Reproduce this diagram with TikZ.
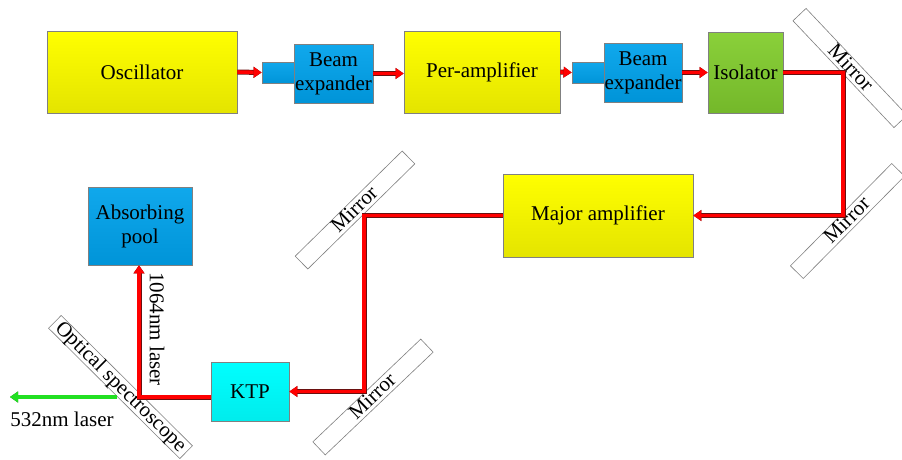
\documentclass[tikz,border=0pt]{standalone}
\usepackage{fontspec}
\setmainfont{LiberationSerif-Regular.ttf}
\usetikzlibrary{arrows.meta}

\definecolor{boxline}{HTML}{808080}
\definecolor{ylwtop}{HTML}{FFFF00}
\definecolor{ylwbot}{HTML}{E4E400}
\definecolor{blutop}{HTML}{10A8EC}
\definecolor{blubot}{HTML}{0094D8}
\definecolor{grntop}{HTML}{8AD03A}
\definecolor{grnbot}{HTML}{74B82A}
\definecolor{cyntop}{HTML}{00FFFF}
\definecolor{cynbot}{HTML}{00ECEC}
\definecolor{beamred}{HTML}{FF0000}
\definecolor{beamedge}{HTML}{6A1010}
\definecolor{beamgreen}{HTML}{22E022}
\definecolor{greenedge}{HTML}{2A7A2A}

\tikzset{
  every node/.style={font=\fontsize{21}{24}\selectfont},
  unit/.style={draw=boxline, line width=0.8pt, rectangle, inner sep=0pt, align=center},
  yellowbox/.style={unit, top color=ylwtop, bottom color=ylwbot},
  bluebox/.style={unit, top color=blutop, bottom color=blubot},
  greenbox/.style={unit, top color=grntop, bottom color=grnbot},
  cyanbox/.style={unit, top color=cyntop, bottom color=cynbot},
  mirrorstrip/.style={draw=boxline, fill=white, line width=0.6pt, rectangle,
    inner sep=0pt, minimum height=18pt, text height=14pt, text depth=3pt},
  beam/.style={draw=beamred, line width=3.6pt, line join=miter,
    -{Triangle[length=8pt,width=11pt,line width=0pt]},
    preaction={draw=beamedge, line width=5pt, line join=miter,
      -{Triangle[length=8pt,width=11pt,line width=1pt]}}},
  greenbeam/.style={draw=beamgreen, line width=3.4pt,
    -{Triangle[length=8pt,width=11pt,line width=0pt]},
    preaction={draw=greenedge, line width=4.6pt,
      -{Triangle[length=8pt,width=11pt,line width=1pt]}}}
}

\begin{document}
\begin{tikzpicture}[x=1pt, y=-1pt]
  \path[fill=white] (0,0) rectangle (902,459);
  \useasboundingbox (0,0) rectangle (902,459);

  % top row
  \node[yellowbox, minimum width=190pt, minimum height=82pt] (osc) at (142,72) {Oscillator};
  \node[bluebox, minimum width=32pt, minimum height=21pt] (be1s) at (278,72.5) {};
  \node[bluebox, minimum width=79pt, minimum height=59pt] (be1) at (333.5,73.5) {Beam\\expander};
  \node[yellowbox, minimum width=156pt, minimum height=82pt] (pa) at (482,72) {Per-amplifier};
  \node[bluebox, minimum width=32pt, minimum height=21pt] (be2s) at (588,72.5) {};
  \node[bluebox, minimum width=78pt, minimum height=59pt] (be2) at (643,72.5) {Beam\\expander};
  \node[greenbox, minimum width=75pt, minimum height=81pt] (iso) at (745.5,72.5) {Isolator};

  % middle and bottom
  \node[yellowbox, minimum width=190pt, minimum height=83pt] (ma) at (598,215.5) {Major amplifier};
  \node[bluebox, minimum width=104pt, minimum height=78pt] (ap) at (140,226) {Absorbing\\pool};
  \node[cyanbox, minimum width=78pt, minimum height=59pt] (ktp) at (250,391.5) {KTP};

  % mirrors and beam splitter
  \node[mirrorstrip, minimum width=147pt, rotate=-46.6] (mir1) at (850,68) {Mirror};
  \node[mirrorstrip, minimum width=144pt, rotate=45.3] (mir2) at (847.5,221) {Mirror};
  \node[mirrorstrip, minimum width=150pt, rotate=44.5] (mir3) at (355,210) {Mirror};
  \node[mirrorstrip, minimum width=149pt, rotate=43.6] (mir4) at (373,397) {Mirror};
  \node[mirrorstrip, minimum width=185pt, rotate=-44.8] (spl) at (120.5,387) {Optical spectroscope};

  % turning points of the beam
  \coordinate (c1) at (843,72.5);
  \coordinate (c2) at (843,215.5);
  \coordinate (c3) at (364,215.5);
  \coordinate (c4) at (364,391.5);
  \coordinate (c5) at (139,397);
  \coordinate (g1) at (117,397);
  \coordinate (g2) at (10,397);

  % beams
  \draw[beam] (osc.east) -- (be1s.west);
  \draw[beam] (be1.east) -- (be1.east -| pa.west);
  \draw[beam] (pa.east) -- (be2s.west);
  \draw[beam] (be2.east) -- (be2.east -| iso.west);
  \draw[beam] (iso.east) -- (c1) -- (c2) -- (ma.east);
  \draw[beam] (ma.west) -- (c3) -- (c4) -- (ktp.east);
  \draw[beam] (ktp.west |- c5) -- (c5) -- (c5 |- ap.south);
  \draw[greenbeam] (g1) -- (g2);

  % beam labels
  \node[rotate=-90] (l1064) at (157,329) {1064nm laser};
  \node (l532) at (62,419) {532nm laser};
\end{tikzpicture}
\end{document}
